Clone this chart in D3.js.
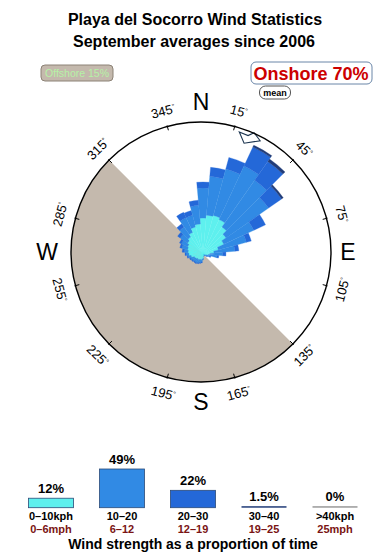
<!DOCTYPE html>
<html>
<head>
<meta charset="utf-8">
<script src="https://d3js.org/d3.v7.min.js"></script>
<style>
  body { margin: 0; background: #fff; }
  text { font-family: 'Liberation Sans', Arial, Helvetica, sans-serif; }
</style>
</head>
<body>
<div id="chart"></div>
<script>
// direction bins (degrees, wind coming from)
var directions = [0, 10, 20, 30, 40, 50, 60, 70, 80, 90, 100, 110, 120, 130, 140, 150, 160, 170,
  180, 190, 200, 210, 220, 230, 240, 250, 260, 270, 280, 290, 300, 310, 320, 330, 340, 350];

// percent of time per direction, one array per strength band
var band0to10 = [1.38, 1.62, 1.70, 1.54, 1.16, 0.84, 0.56, 0.27, 0.13, 0.05, 0.03, 0.01, 0.004, 0.001, 0, 0, 0, 0.004,
  0.017, 0.027, 0.038, 0.038, 0.052, 0.052, 0.068, 0.086, 0.153, 0.209, 0.24, 0.273, 0.308, 0.384, 0.47, 0.613, 0.835, 0.959];
var band10to20 = [3.26, 4.86, 6.54, 8.48, 7.47, 5.98, 2.78, 1.88, 0.96, 0.37, 0.18, 0.04, 0.013, 0.009, 0.004, 0.004, 0.004, 0.006,
  0.021, 0.041, 0.048, 0.069, 0.077, 0.077, 0.085, 0.094, 0.087, 0.099, 0.144, 0.242, 0.305, 0.451, 0.69, 1.09, 0.869, 1.598];
var band20to30 = [0.88, 1.58, 2.40, 4.81, 4.97, 3.00, 1.73, 0.51, 0.29, 0.14, 0.06, 0.02, 0.01, 0, 0, 0, 0, 0,
  0, 0.018, 0.021, 0.022, 0.024, 0.024, 0.027, 0.029, 0.033, 0.037, 0.085, 0.098, 0.107, 0.188, 0.30, 0.55, 0.453, 0.548];
var band30to40 = [0, 0, 0, 0.51, 0.73, 0.41, 0, 0, 0, 0, 0, 0, 0, 0, 0, 0, 0, 0,
  0, 0, 0, 0, 0, 0, 0, 0, 0, 0, 0, 0, 0, 0, 0, 0, 0, 0];

var bandColors = ['#5ef0ee', '#318ae4', '#2468d8', '#213c78'];

// legend
var legendPct = [12, 49, 22, 1.5, 0];
var legendPctText = ['12%', '49%', '22%', '1.5%', '0%'];
var legendKph = ['0\u201310kph', '10\u201320', '20\u201330', '30\u201340', '>40kph'];
var legendMph = ['0\u20136mph', '6\u201312', '12\u201319', '19\u201325', '25mph'];
var legendColors = ['#5ef0ee', '#318ae4', '#2468d8', '#213c78', '#9a9a9a'];

var degreeTicks = [15, 45, 75, 105, 135, 165, 195, 225, 255, 285, 315, 345];
var compassLetters = [['N', 0], ['E', 90], ['S', 180], ['W', 270]];
var meanDir = 23;
var offshoreFrom = 135, offshoreTo = 315;

var svgWidth = 390, svgHeight = 560;
var cx = 201, cy = 252, R = 130;
var toRad = Math.PI / 180;

var svg = d3.select('#chart')
  .append('svg')
  .attr('width', svgWidth)
  .attr('height', svgHeight);

// titles
svg.append('text')
  .attr('x', 195).attr('y', 25)
  .attr('text-anchor', 'middle')
  .attr('font-size', '16px').attr('font-weight', 'bold')
  .text('Playa del Socorro Wind Statistics');
svg.append('text')
  .attr('x', 194).attr('y', 46.5)
  .attr('text-anchor', 'middle')
  .attr('font-size', '16px').attr('font-weight', 'bold')
  .text('September averages since 2006');

// offshore / onshore boxes
svg.append('rect')
  .attr('x', 41).attr('y', 65).attr('width', 72).attr('height', 16).attr('rx', 4)
  .attr('fill', '#c4b9ad').attr('stroke', '#8c8276');
svg.append('text')
  .attr('x', 77).attr('y', 76.8)
  .attr('text-anchor', 'middle')
  .attr('font-size', '10.5px')
  .attr('fill', '#b6f2a6')
  .text('Offshore 15%');

svg.append('rect')
  .attr('x', 251).attr('y', 62).attr('width', 121).attr('height', 22).attr('rx', 5)
  .attr('fill', '#fff').attr('stroke', '#6a86a8');
svg.append('text')
  .attr('x', 311).attr('y', 80)
  .attr('text-anchor', 'middle')
  .attr('font-size', '18px').attr('font-weight', 'bold')
  .attr('fill', '#cc0000')
  .text('Onshore 70%');

svg.append('rect')
  .attr('x', 259.5).attr('y', 86).attr('width', 31).attr('height', 13).attr('rx', 6)
  .attr('fill', '#fff').attr('stroke', '#555');
svg.append('text')
  .attr('x', 275).attr('y', 95.5)
  .attr('text-anchor', 'middle')
  .attr('font-size', '9px').attr('font-weight', 'bold')
  .text('mean');

// compass group
var compass = svg.append('g')
  .attr('transform', `translate(${cx}, ${cy})`);

// offshore half disc
compass.append('path')
  .attr('d', d3.arc()({
    innerRadius: 0, outerRadius: R,
    startAngle: offshoreFrom * toRad, endAngle: offshoreTo * toRad
  }))
  .attr('fill', '#c4b9ad');

// rose, sqrt scale so area follows time
var rScale = d3.scaleSqrt().domain([0, 18]).range([0, R]);
var bands = [band0to10, band10to20, band20to30, band30to40];

var roseData = [];
directions.forEach(function(dir, i) {
  var cum = 0;
  bands.forEach(function(band, b) {
    var lo = cum;
    cum += band[i];
    if (band[i] > 0) {
      roseData.push({ dir: dir, band: b, lo: lo, hi: cum });
    }
  });
});

var sectorArc = d3.arc()
  .innerRadius(d => rScale(d.lo))
  .outerRadius(d => rScale(d.hi))
  .startAngle(d => (d.dir - 5) * toRad)
  .endAngle(d => (d.dir + 5) * toRad);

var rose = compass.append('g')
  .attr('transform', 'translate(2, 2)');

rose.selectAll('path')
  .data(roseData)
  .enter()
  .append('path')
  .attr('d', sectorArc)
  .attr('fill', d => bandColors[d.band])
  .attr('stroke', d => bandColors[d.band])
  .attr('stroke-width', 0.3);

// mean direction marker
var meanShape = [[-5.3, 126], [-1, 125.6], [1, 130.5], [5, 126], [-1.4, 117]];
compass.append('path')
  .attr('d', d3.line()(meanShape.map(function(p) {
    var a = (meanDir + p[0]) * toRad;
    return [p[1] * Math.sin(a), -p[1] * Math.cos(a)];
  })) + 'Z')
  .attr('fill', 'none')
  .attr('stroke', '#1c3550')
  .attr('stroke-width', 1.1);

// outer circle
compass.append('circle')
  .attr('r', R)
  .attr('fill', 'none')
  .attr('stroke', '#000')
  .attr('stroke-width', 1.4);

// ticks
compass.selectAll('.tick')
  .data(degreeTicks)
  .enter()
  .append('line')
  .attr('x1', d => (R - 4) * Math.sin(d * toRad))
  .attr('y1', d => -(R - 4) * Math.cos(d * toRad))
  .attr('x2', d => (R + 1) * Math.sin(d * toRad))
  .attr('y2', d => -(R + 1) * Math.cos(d * toRad))
  .attr('stroke', '#000');

// degree labels, rotated along the rim
var degLabels = compass.selectAll('.deg')
  .data(degreeTicks)
  .enter()
  .append('text')
  .attr('transform', function(d) {
    var rot = d % 180;
    if (rot > 90) rot -= 180;
    var x = 146 * Math.sin(d * toRad), y = -146 * Math.cos(d * toRad);
    return `translate(${x}, ${y}) rotate(${rot})`;
  })
  .attr('text-anchor', 'middle')
  .attr('dy', '0.36em')
  .attr('font-size', '13px');
degLabels.append('tspan').text(d => d);
degLabels.append('tspan')
  .attr('font-size', '7px')
  .attr('dy', '-0.6em')
  .text('\u00b0');

// compass letters
compass.selectAll('.letter')
  .data(compassLetters)
  .enter()
  .append('text')
  .attr('x', d => 150 * Math.sin(d[1] * toRad) - (d[0] === 'W' ? 4 : 0) - (d[0] === 'E' ? 3 : 0))
  .attr('y', d => -150 * Math.cos(d[1] * toRad))
  .attr('dy', '0.36em')
  .attr('text-anchor', 'middle')
  .attr('font-size', '23px')
  .text(d => d[0]);

// legend bars
var barBase = 507.7;
var hScale = d3.scaleLinear().domain([0, 49]).range([0, 38.7]);
var xCenter = d3.scalePoint().domain(d3.range(legendPct.length)).range([51, 335]);

var legend = svg.append('g');
legend.selectAll('rect')
  .data(legendPct)
  .enter()
  .append('rect')
  .attr('x', (d, i) => xCenter(i) - 22.5)
  .attr('y', d => barBase - Math.max(hScale(d), 1.5))
  .attr('width', 45)
  .attr('height', d => Math.max(hScale(d), 1.5))
  .attr('fill', (d, i) => legendColors[i])
  .attr('stroke', (d, i) => d > 2 ? '#2b4a78' : 'none')
  .attr('stroke-width', 0.8);

legend.selectAll('.pct')
  .data(legendPct)
  .enter()
  .append('text')
  .attr('x', (d, i) => xCenter(i))
  .attr('y', d => barBase - Math.max(hScale(d), 1.5) - 5.5)
  .attr('text-anchor', 'middle')
  .attr('font-size', '13px').attr('font-weight', 'bold')
  .text((d, i) => legendPctText[i]);

legend.selectAll('.kph')
  .data(legendKph)
  .enter()
  .append('text')
  .attr('x', (d, i) => xCenter(i))
  .attr('y', 520.2)
  .attr('text-anchor', 'middle')
  .attr('font-size', '11px').attr('font-weight', 'bold')
  .text(d => d);

legend.selectAll('.mph')
  .data(legendMph)
  .enter()
  .append('text')
  .attr('x', (d, i) => xCenter(i))
  .attr('y', 532.6)
  .attr('text-anchor', 'middle')
  .attr('font-size', '11px').attr('font-weight', 'bold')
  .attr('fill', '#7a1414')
  .text(d => d);

svg.append('text')
  .attr('x', 193).attr('y', 548.5)
  .attr('text-anchor', 'middle')
  .attr('font-size', '14px').attr('font-weight', 'bold')
  .text('Wind strength as a proportion of time');
</script>
</body>
</html>
